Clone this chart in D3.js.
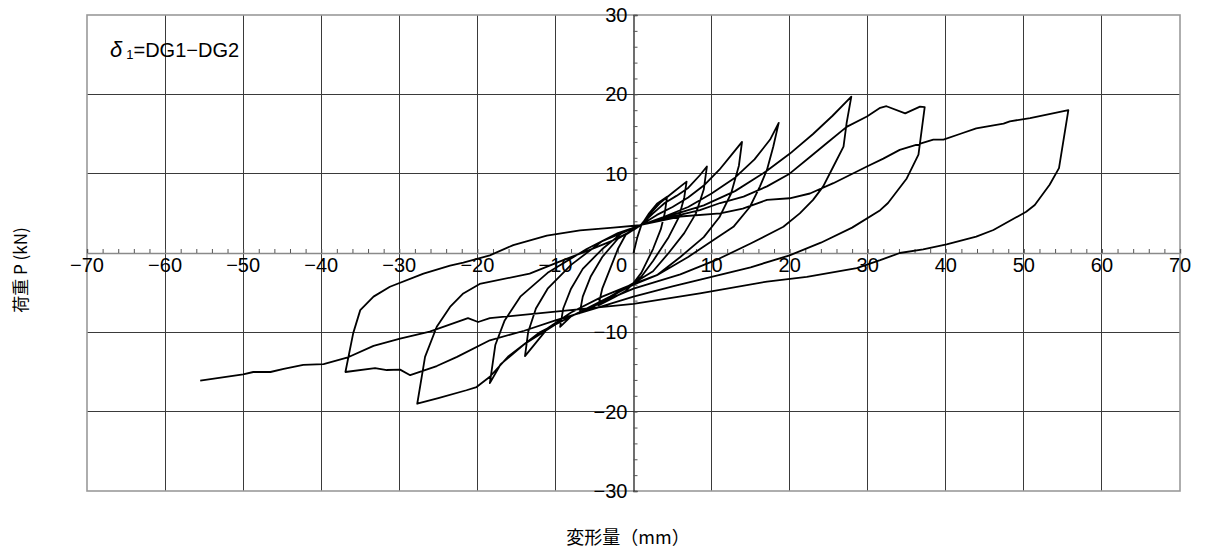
<!DOCTYPE html>
<html>
<head>
<meta charset="utf-8">
<script src="https://cdn.jsdelivr.net/npm/d3@7"></script>
<style>
  html, body { margin: 0; padding: 0; background: #fff; }
  svg { display: block; }
  text { font-family: "Liberation Sans", Arial, sans-serif; fill: #000; }
  .cjk { font-family: "Noto Sans CJK JP", "Noto Sans CJK SC", sans-serif; }
</style>
</head>
<body>
<svg id="chart" width="1205" height="553"></svg>
<script>
// Load P (kN) against displacement (mm), cyclic test record, one cycle per array.
const cycle1 = [[0,0],[0.5,2],[1,3.5],[2,5],[3,6.2],[4.3,7.1],[4,5],[3.5,3],[2.5,0.5],[1,-2.5],[0,-3.8],[-1,-4.8],[-2.5,-5.6],[-4.5,-6.6],[-4,-4.5],[-3,-2],[-2,0.5],[-1,2.3],[0.9,3.5]];
const cycle2 = [[2,4.8],[3.5,6.4],[5,7.6],[6.8,9.0],[6.5,7],[5.8,4.5],[4.5,2],[2.5,-1],[1,-3],[0,-3.8],[-2,-5],[-4,-6.2],[-5.5,-6.9],[-6.9,-7.6],[-6.5,-5.5],[-5.5,-3],[-4,-0.5],[-2,1.8],[0.9,3.5]];
const cycle3 = [[2.5,5],[4,6.3],[5.5,7.2],[7,8.2],[8.5,9.8],[9.4,10.9],[9,8],[8,5],[6.5,2.5],[4.5,0],[2.5,-2.3],[0,-3.8],[-3,-5.5],[-6,-7],[-8,-8],[-9.4,-9.3],[-9,-7],[-8,-4.5],[-6.5,-2],[-4,0.5],[-1.5,2.5],[0.9,3.5]];
const cycle4 = [[3,4.8],[5,5.8],[7,7],[9,8.5],[11,10.5],[12.5,12.3],[13.9,14.0],[13.5,11],[12.5,7.5],[11,4.5],[9,2],[6,-0.5],[3,-2.8],[0,-3.9],[-4,-5.5],[-8,-7.5],[-11,-9.5],[-13.9,-13],[-13.5,-10],[-12.5,-7],[-11,-4.5],[-8,-1.5],[-4,1.5],[0.9,3.5]];
const cycle5 = [[4,4.6],[7,5.8],[10,7.5],[13,9.5],[15.5,11.8],[17.5,14.3],[18.6,16.4],[17.9,13.4],[17.1,10.5],[16.2,8.4],[14.9,5.8],[12.8,3.3],[10.2,1.6],[7,-0.5],[3,-2.8],[0,-4],[-5,-6.5],[-10,-9],[-14,-11.5],[-17,-14],[-18.4,-16.4],[-17.7,-11.6],[-16.5,-8.5],[-14.5,-5.5],[-11,-2.5],[-6,0.5],[-2,2.5],[0.9,3.5]];
const cycle6 = [[5,4.8],[9,6],[13,7.8],[17,10.3],[20,12.5],[23,15],[25.5,17.3],[27.9,19.7],[27.3,16.4],[26.9,13.4],[25.6,10.9],[24.3,8.4],[23,6.7],[21.3,5.0],[19.2,3.3],[15,1.2],[11,-0.7],[6,-2.7],[0,-4.5],[-6,-7],[-12,-10],[-16,-13],[-18.4,-15.6],[-20.1,-16.9],[-21.4,-17.3],[-25,-18.3],[-27.7,-19],[-26.7,-13.1],[-25.2,-9.3],[-23.5,-6.8],[-21.8,-5.1],[-19.7,-3.9],[-13.3,-2.6],[-9,-0.9],[-5.6,0.4],[-2.6,1.6],[0,2.9],[0.9,3.5]];
const cycle7 = [[5,4.6],[8.5,5.4],[11.1,6.3],[14.1,7.1],[17.1,8.4],[20,10],[22.6,12.1],[24.7,13.8],[27.3,15.9],[29.9,17.2],[31.6,18.3],[32.4,18.5],[34.8,17.6],[36.7,18.45],[37.3,18.4],[36.5,12.4],[35,9.4],[32.6,6.3],[31.6,5.4],[28,3.2],[24,1.3],[20,-0.3],[15,-1.8],[10,-3],[5,-4.2],[0,-5.5],[-5,-7],[-10,-8.5],[-14,-9.8],[-18.4,-11],[-22.6,-13.1],[-25.2,-14.25],[-28.6,-15.4],[-29.9,-14.7],[-31.6,-14.75],[-33.1,-14.5],[-36.9,-15.0],[-35.9,-10.1],[-35,-7.2],[-33.3,-5.5],[-31.2,-4.25],[-26.9,-2.6],[-23.5,-1.6],[-21.8,-1.2],[-18.4,-0.3],[-15.4,1.0],[-11.1,2.2],[-6.85,2.85],[-2.6,3.2],[0.8,3.5]];
const cycle8 = [[6,4.6],[11.1,5.0],[14,5.6],[17.1,6.7],[20,6.9],[22.6,7.5],[25.6,8.8],[29.9,10.9],[32,11.9],[34.1,13.0],[38.4,14.3],[39.7,14.3],[41.8,15.0],[43.9,15.7],[46.1,16.1],[47.4,16.3],[48.2,16.6],[50.8,17.0],[55.7,18.0],[54.5,10.7],[53.3,8.6],[51.4,6.05],[50.3,5.2],[46.1,2.9],[43.9,2.06],[40.1,1.1],[37.1,0.46],[34.1,0],[31.6,-0.9],[28.6,-1.9],[22.2,-3.0],[17.1,-3.6],[8.5,-5.1],[0,-6.4],[-10,-7.4],[-18.4,-8.2],[-19.9,-8.7],[-21.2,-8.2],[-26.1,-9.9],[-29.9,-10.8],[-33.3,-11.7],[-36.7,-13.2],[-39.7,-14.0],[-42.3,-14.1],[-44.8,-14.6],[-46.5,-15.0],[-48.7,-15.0],[-50,-15.3],[-55.5,-16.1]];

const xTickValues = [-70,-60,-50,-40,-30,-20,-10,0,10,20,30,40,50,60,70];
const yTickValues = [-30,-20,-10,10,20,30];
const xTitle = "変形量（mm）";
const yTitle = "荷重 P (kN)";

const record = [].concat(cycle1, cycle2, cycle3, cycle4, cycle5, cycle6, cycle7, cycle8);

const svg = d3.select("#chart");
const plot = { left: 87, right: 1180, top: 15, bottom: 491 };

const x = d3.scaleLinear().domain([-70, 70]).range([plot.left, plot.right]);
const y = d3.scaleLinear().domain([-30, 30]).range([plot.bottom, plot.top]);

// grid
const grid = svg.append("g");
grid.selectAll("line.v").data(d3.range(-60, 61, 10).filter(d => d !== 0)).join("line")
  .attr("x1", d => x(d)).attr("x2", d => x(d))
  .attr("y1", plot.top).attr("y2", plot.bottom)
  .attr("stroke", "#3a3a3a").attr("stroke-width", 1).attr("shape-rendering", "crispEdges");
grid.selectAll("line.h").data([-20, -10, 10, 20]).join("line")
  .attr("x1", plot.left).attr("x2", plot.right)
  .attr("y1", d => y(d)).attr("y2", d => y(d))
  .attr("stroke", "#3a3a3a").attr("stroke-width", 1).attr("shape-rendering", "crispEdges");

// frame
svg.append("rect")
  .attr("x", plot.left).attr("y", plot.top)
  .attr("width", plot.right - plot.left).attr("height", plot.bottom - plot.top)
  .attr("fill", "none").attr("stroke", "#9a9a9a").attr("stroke-width", 1.6);

// axes crossing at the origin
const xAxis = d3.axisBottom(x)
  .tickValues(d3.range(-70, 71, 2))
  .tickSize(-4).tickFormat("");
svg.append("g").attr("transform", `translate(0,${y(0)})`).call(xAxis)
  .call(g => g.select(".domain").attr("stroke", "#8a8a8a").attr("stroke-width", 1.6))
  .call(g => g.selectAll(".tick line").attr("stroke", "#555"));

const yAxis = d3.axisRight(y)
  .tickValues(d3.range(-30, 31, 2))
  .tickSize(4).tickFormat("");
svg.append("g").attr("transform", `translate(${x(0)},0)`).call(yAxis)
  .call(g => g.select(".domain").attr("stroke", "#222").attr("stroke-width", 1.3))
  .call(g => g.selectAll(".tick line").attr("stroke", "#555"));

const fmt = v => (v < 0 ? "\u2212" + Math.abs(v) : String(v));

// tick labels
svg.append("g").selectAll("text").data(xTickValues).join("text")
  .attr("x", d => d === 0 ? x(d) - 12 : x(d))
  .attr("y", y(0) + 19)
  .attr("text-anchor", "middle")
  .attr("font-size", 20)
  .text(fmt);

svg.append("g").selectAll("text").data(yTickValues).join("text")
  .attr("x", x(0) - 6)
  .attr("y", d => y(d) + 7)
  .attr("text-anchor", "end")
  .attr("font-size", 20)
  .text(fmt);

// load-displacement curve
const line = d3.line().x(d => x(d[0])).y(d => y(d[1]));
svg.append("path")
  .datum(record)
  .attr("d", line)
  .attr("fill", "none")
  .attr("stroke", "#000")
  .attr("stroke-width", 1.8)
  .attr("stroke-linejoin", "round");

// annotation
const note = svg.append("text").attr("x", 110).attr("y", 57).attr("font-size", 20);
note.append("tspan").attr("font-style", "italic").attr("font-size", 22).text("δ");
note.append("tspan").attr("font-size", 13).attr("dx", 4).attr("dy", 2).text("1");
note.append("tspan").attr("dy", -2).text("=DG1\u2212DG2");

// axis titles
svg.append("text").attr("class", "cjk")
  .attr("x", 628).attr("y", 544)
  .attr("text-anchor", "middle").attr("font-size", 18)
  .text(xTitle);

svg.append("text").attr("class", "cjk")
  .attr("transform", "translate(27,270) rotate(-90)")
  .attr("text-anchor", "middle").attr("font-size", 17)
  .text(yTitle);
</script>
</body>
</html>
